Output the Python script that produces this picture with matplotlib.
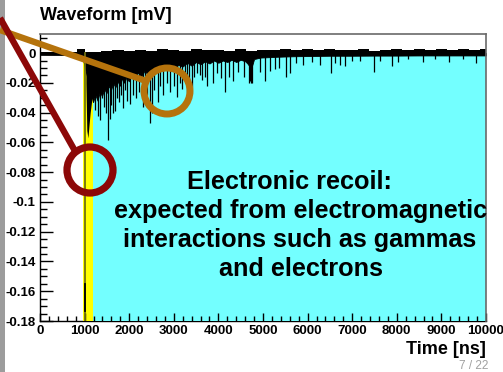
import matplotlib
matplotlib.use("Agg")
import matplotlib.pyplot as plt
from matplotlib.patches import Circle
from matplotlib.lines import Line2D
import numpy as np

plt.rcParams['font.family'] = ['Liberation Sans', 'DejaVu Sans']
plt.rcParams['font.weight'] = 'bold'

# ---------------- data ----------------
x_ticks = [0, 1000, 2000, 3000, 4000, 5000, 6000, 7000, 8000, 9000, 10000]
y_ticks = [0, -0.02, -0.04, -0.06, -0.08, -0.1, -0.12, -0.14, -0.16, -0.18]
y_tick_labels = ["0", "-0.02", "-0.04", "-0.06", "-0.08", "-0.1", "-0.12",
                 "-0.14", "-0.16", "-0.18"]

# shaded time windows [ns]
prompt_window = [955, 1190]      # yellow
tail_window = [1190, 10000]      # cyan

# main pulse
pulse_t = [1000, 1000]
pulse_v = [0.0, -0.19]
pulse_dark_v = [-0.155, -0.173]
pulse_body_t = [1030, 1050, 1075, 1100, 1125, 1150, 1170, 1190]
pulse_body_v = [-0.020, -0.052, -0.057, -0.048, -0.040, -0.034, -0.030, -0.032]

# lower envelope of the dense black tail (ragged)
env_t = [0, 500, 940, 1190, 1240, 1290, 1340, 1390, 1440, 1490, 1540, 1590,
         1640, 1690, 1740, 1790, 1840, 1890, 1940, 1990, 2060, 2130, 2200,
         2270, 2340, 2410, 2480, 2550, 2620, 2700, 2780, 2860, 2940, 3020,
         3100, 3200, 3300, 3400, 3500, 3600, 3700, 3800, 3900, 4000, 4100,
         4200, 4300, 4400, 4500, 4600, 4650, 4700, 4760, 4800, 4950, 5100,
         5300, 5500, 5750, 6000, 6500, 7000, 7500, 8000, 8500, 9000, 9500,
         10000]
env_v = [-0.0012, -0.0013, -0.0012, -0.033, -0.028, -0.032, -0.026, -0.029,
         -0.024, -0.027, -0.022, -0.025, -0.020, -0.023, -0.019, -0.022,
         -0.017, -0.020, -0.016, -0.019, -0.014, -0.017, -0.013, -0.016,
         -0.012, -0.014, -0.011, -0.013, -0.010, -0.012, -0.009, -0.011,
         -0.0085, -0.010, -0.008, -0.009, -0.0065, -0.0085, -0.006, -0.0075,
         -0.0055, -0.007, -0.005, -0.0065, -0.005, -0.006, -0.0045, -0.006,
         -0.0045, -0.0055, -0.007, -0.009, -0.008, -0.004, -0.003, -0.0028,
         -0.0025, -0.0023, -0.0021, -0.002, -0.0018, -0.0018, -0.0017,
         -0.0017, -0.0016, -0.0016, -0.0016, -0.0016]

# upper noise edge of the baseline
noise_t = [0, 250, 500, 750, 900, 1100, 1250, 1500, 1750, 2000, 2250, 2500,
           2750, 3000, 3250, 3500, 3750, 4000, 4250, 4500, 4750, 5000, 5250,
           5500, 5750, 6000, 6250, 6500, 6750, 7000, 7250, 7500, 7750, 8000,
           8250, 8500, 8750, 9000, 9250, 9500, 9750, 10000]
noise_v = [0.0010, 0.0008, 0.0011, 0.0009, 0.0026, 0.0008, 0.0006, 0.0012,
           0.0018, 0.0013, 0.0022, 0.0015, 0.0024, 0.0019, 0.0017, 0.0026,
           0.0018, 0.0023, 0.0016, 0.0025, 0.0017, 0.0022, 0.0019, 0.0028,
           0.0020, 0.0024, 0.0018, 0.0027, 0.0021, 0.0019, 0.0025, 0.0017,
           0.0022, 0.0027, 0.0019, 0.0024, 0.0021, 0.0026, 0.0018, 0.0025,
           0.0022, 0.0024]

# individual negative spikes (time [ns], depth [mV])
spike_t = [1233, 1290, 1345, 1400, 1435, 1480, 1525, 1570, 1600, 1637, 1682,
           1720, 1771, 1820, 1861, 1900, 1951, 2018, 2080, 2152, 2220, 2309,
           2350, 2400, 2466, 2511, 2560, 2646, 2700, 2758, 2850, 2915, 3000,
           3072, 3130, 3184, 3250, 3296, 3350, 3408, 3460, 3520, 3580, 3632,
           3700, 3744, 3879, 3969, 4058, 4148, 4238, 4327, 4439, 4574, 4686,
           4705, 4720, 4737, 4753, 4933, 5045, 5157, 5269, 5359, 5516, 5605,
           5740, 5897, 6099, 6278, 6525, 6614, 6726, 6839, 6996, 7175, 7489,
           7623, 7892, 8027, 8251, 8587, 8857, 9170, 9484, 9776]
spike_v = [-0.038, -0.042, -0.045, -0.030, -0.036, -0.040, -0.0586, -0.044,
           -0.035, -0.040, -0.039, -0.030, -0.033, -0.028, -0.037, -0.025,
           -0.032, -0.034, -0.028, -0.030, -0.026, -0.036, -0.030, -0.028,
           -0.047, -0.040, -0.025, -0.033, -0.022, -0.028, -0.020, -0.026,
           -0.022, -0.0296, -0.020, -0.024, -0.018, -0.027, -0.020, -0.023,
           -0.016, -0.0135, -0.015, -0.018, -0.016, -0.022, -0.020, -0.0135,
           -0.017, -0.026, -0.016, -0.019, -0.013, -0.016, -0.020, -0.019,
           -0.018, -0.020, -0.020, -0.013, -0.019, -0.012, -0.011, -0.010,
           -0.016, -0.0135, -0.007, -0.008, -0.006, -0.008, -0.0135, -0.007,
           -0.008, -0.009, -0.005, -0.005, -0.0128, -0.005, -0.0088, -0.006,
           -0.004, -0.006, -0.004, -0.0063, -0.004, -0.0065]

title_text = "Waveform [mV]"
xlabel_text = "Time [ns]"
page_text = "7 / 22"
note_lines = ["Electronic recoil:", "expected from electromagnetic",
              "interactions such as gammas", "and electrons"]

# ---------------- figure ----------------
W, H = 503, 372
fig = plt.figure(figsize=(W / 100, H / 100), dpi=100)
fig.patch.set_facecolor('white')

ax_l, ax_r, ax_t, ax_b = 40, 486, 34, 321
ax = fig.add_axes([ax_l / W, 1 - ax_b / H, (ax_r - ax_l) / W, (ax_b - ax_t) / H])
ymin = -0.18
ymax = (53 - 34) / 1483.0
ax.set_xlim(0, 10000)
ax.set_ylim(ymin, ymax)

cyan = '#73FFFF'
yellow = '#FFFF00'
ax.fill_between(tail_window, [0, 0], [ymin, ymin], color=cyan, lw=0, zorder=1)
ax.fill_between(prompt_window, [0, 0], [ymin, ymin], color=yellow, lw=0, zorder=1)

# waveform
ax.fill_between(env_t, 0, env_v, color='black', lw=0.6, ec='black', zorder=2)
ax.fill_between(noise_t, -0.0005, noise_v, color='black', lw=0, step='mid', zorder=2)
ax.fill_between(pulse_body_t, 0, pulse_body_v, color='black', lw=0, zorder=2)
ax.vlines(spike_t, 0, spike_v, color='black', lw=0.9, zorder=2)
ax.plot(pulse_t, pulse_v, color='#6f6f10', lw=1.3, zorder=2)
ax.plot([pulse_t[0], pulse_t[0]], pulse_dark_v, color='black', lw=1.3, zorder=2)

# axes styling
ax.set_xticks(x_ticks)
ax.set_xticklabels([str(v) for v in x_ticks])
ax.set_yticks(y_ticks)
ax.set_yticklabels(y_tick_labels)
ax.set_xticks(np.arange(0, 10001, 200), minor=True)
ax.set_yticks(np.arange(-0.18, 0.0101, 0.005), minor=True)
ax.tick_params(axis='both', which='both', direction='in', colors='black',
               labelsize=9.5, pad=3)
ax.tick_params(axis='y', which='major', length=9.4, width=1)
ax.tick_params(axis='y', which='minor', length=5, width=1)
ax.tick_params(axis='x', which='major', length=6, width=1)
ax.tick_params(axis='x', which='minor', length=3.6, width=1)
for lab in ax.get_xticklabels() + ax.get_yticklabels():
    lab.set_fontweight('bold')
for s in ['left', 'bottom']:
    ax.spines[s].set_color('black')
    ax.spines[s].set_linewidth(1)
for s in ['top', 'right']:
    ax.spines[s].set_color('#6a6a6a')
    ax.spines[s].set_linewidth(1.2)
ax.spines['bottom'].set_zorder(0.5)
ax.set_facecolor('white')

# ---------------- overlay (pixel coordinates) ----------------
ov = fig.add_axes([0, 0, 1, 1], facecolor='none')
ov.set_xlim(0, W)
ov.set_ylim(H, 0)
ov.axis('off')

ov.add_patch(plt.Rectangle((0, 0), 5, H, color='#9c9c9c', lw=0))

orange = '#B5730C'
dred = '#8C0808'
ov.add_line(Line2D([0, 146], [30, 81], color=orange, lw=4.6, solid_capstyle='butt'))
ov.add_patch(Circle((167, 91), 23, fill=False, ec=orange, lw=5))
ov.add_line(Line2D([0, 75], [18, 151], color=dred, lw=4.6, solid_capstyle='butt'))
ov.add_patch(Circle((90, 170), 23, fill=False, ec=dred, lw=5.2))

ov.text(40, 15, title_text, fontsize=13, fontweight='bold', ha='left', va='center')
ov.text(486, 350, xlabel_text, fontsize=13, fontweight='bold', ha='right', va='center')
ov.text(474, 360, page_text, fontsize=8.5, fontweight='normal', color='#a0a0a0',
        ha='center', va='top')

note_x = [289, 301, 300, 301]
note_y = [189, 218, 247, 276]
for tx, ty, line in zip(note_x, note_y, note_lines):
    ov.text(tx, ty, line, fontsize=18.2, fontweight='bold', ha='center', va='baseline')

fig.savefig('out.png', dpi=100)
